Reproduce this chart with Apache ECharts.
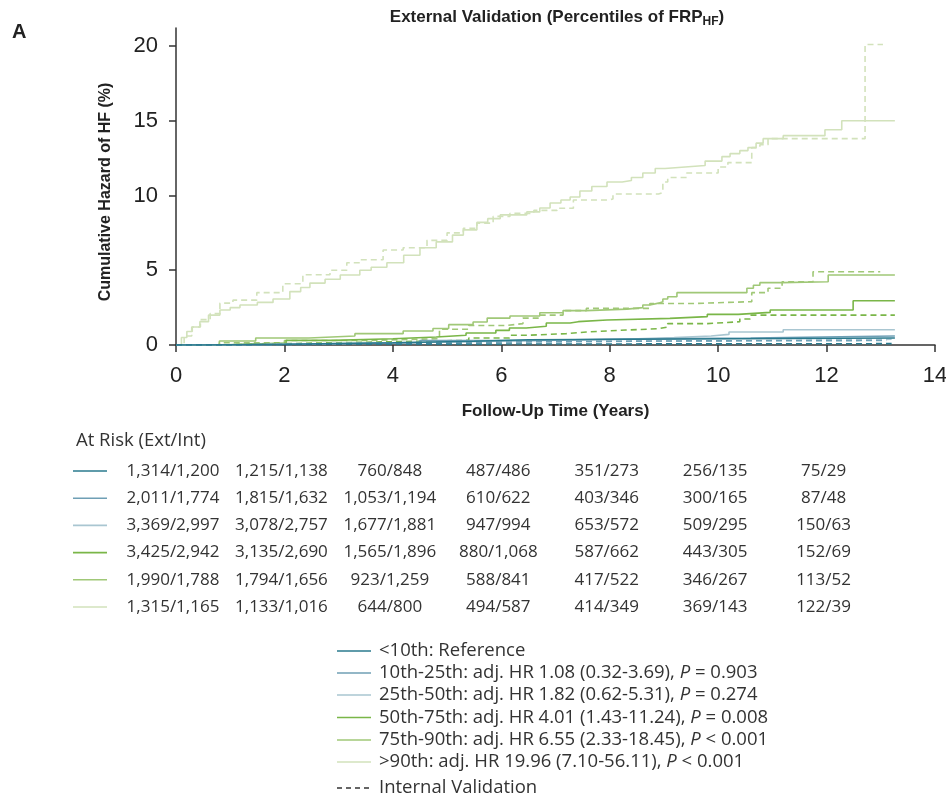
<!DOCTYPE html>
<html>
<head>
<meta charset="utf-8">
<script src="https://cdn.jsdelivr.net/npm/echarts@6/dist/echarts.min.js"></script>
<style>
html,body{margin:0;padding:0;background:#fff;}
#main{width:946px;height:800px;}
</style>
</head>
<body>
<div id="main"></div>
<script>
// groups (percentiles of FRP_HF)
var groupNames = ['<10th', '10th-25th', '25th-50th', '50th-75th', '75th-90th', '>90th'];
var groupColors = ['#2a7a8e', '#6f9fb5', '#a9c6d1', '#7ab648', '#a0c877', '#d2e2bb'];

// external validation (solid) - step times / cumulative hazard (%)
var ext10T = [0, 0.5, 2.0, 4.0, 5.5, 6.5, 13.26];
var ext10V = [0, 0.05, 0.15, 0.25, 0.35, 0.47, 0.47];
var ext25T = [0, 0.5, 2.5, 4.5, 6.5, 8.2, 10.6, 13.26];
var ext25V = [0, 0.05, 0.15, 0.3, 0.4, 0.47, 0.6, 0.6];
var ext50T = [0, 1.0, 3.0, 5.0, 6.8, 8.25, 9.19, 9.87, 10.2, 11.2, 13.26];
var ext50V = [0, 0.1, 0.2, 0.3, 0.38, 0.49, 0.6, 0.71, 0.87, 1.02, 1.02];
var ext75T = [0, 0.8, 2.03, 2.9, 4.0, 4.8, 5.35, 5.9, 6.15, 6.46, 6.83, 7.27, 7.42, 7.95, 9.11, 9.8, 10.37, 10.96, 12.49, 13.26];
var ext75V = [0, 0.13, 0.31, 0.42, 0.54, 0.65, 0.8, 0.98, 1.14, 1.25, 1.47, 1.56, 1.67, 1.78, 1.9, 2.05, 2.18, 2.34, 2.96, 2.96];
var ext90T = [0, 0.8, 1.47, 2.45, 3.3, 4.19, 4.74, 5.03, 5.48, 5.74, 6.16, 6.71, 7.14, 7.57, 8.32, 8.61, 8.74, 8.9, 8.98, 9.07, 9.24, 10.53, 10.65, 10.77, 11.18, 12.03, 13.26];
var ext90V = [0, 0.27, 0.47, 0.6, 0.76, 0.94, 1.1, 1.36, 1.54, 1.8, 1.94, 2.16, 2.3, 2.4, 2.5, 2.68, 2.8, 2.9, 3.08, 3.23, 3.5, 3.8, 4.0, 4.17, 4.23, 4.68, 4.68];
var extTopT = [0, 0.1, 0.2, 0.3, 0.44, 0.6, 0.81, 1.0, 1.18, 1.5, 1.79, 2.1, 2.3, 2.47, 2.75, 3.03, 3.39, 3.6, 3.89, 4.2, 4.5, 4.8, 5.1, 5.3, 5.55, 5.75, 5.98, 6.47, 6.71, 6.9, 7.1, 7.27, 7.45, 7.67, 7.95, 8.23, 8.4, 8.61, 8.84, 9.02, 9.39, 9.76, 10.07, 10.22, 10.4, 10.55, 10.7, 10.83, 11.2, 11.97, 12.28, 13.26];
var extTopV = [0, 0.5, 0.9, 1.2, 1.56, 2.0, 2.34, 2.5, 2.68, 2.85, 3.08, 3.57, 3.85, 4.14, 4.4, 4.68, 5.0, 5.2, 5.5, 6.0, 6.5, 6.9, 7.35, 7.7, 8.2, 8.45, 8.7, 8.9, 9.16, 9.5, 9.7, 9.9, 10.3, 10.6, 10.9, 11.0, 11.2, 11.5, 11.8, 11.9, 12.0, 12.3, 12.6, 12.8, 13.0, 13.2, 13.5, 13.8, 14.0, 14.4, 15.0, 15.0];

// internal validation (dashed)
var int10T = [0, 1.0, 3.0, 13.2];
var int10V = [0, 0.05, 0.09, 0.09];
var int25T = [0, 1.5, 4.0, 6.0, 9.0, 13.1];
var int25V = [0, 0.1, 0.2, 0.27, 0.3, 0.3];
var int50T = [0, 1.0, 3.0, 5.5, 9.87, 13.2];
var int50V = [0, 0.1, 0.2, 0.27, 0.38, 0.38];
var int75T = [0, 0.8, 2.0, 3.7, 5.4, 6.15, 6.5, 7.2, 7.57, 8.3, 8.9, 9.07, 9.8, 10.4, 10.59, 13.26];
var int75V = [0, 0.09, 0.2, 0.31, 0.47, 0.65, 0.76, 0.87, 1.0, 1.09, 1.2, 1.43, 1.56, 1.74, 2.0, 2.0];
var int90T = [0, 0.8, 2.0, 3.5, 4.86, 5.4, 6.08, 6.4, 6.71, 7.14, 7.57, 8.74, 9.61, 10.62, 10.92, 11.18, 11.75, 12.99];
var int90V = [0, 0.15, 0.3, 0.42, 1.05, 1.3, 1.43, 1.8, 2.0, 2.3, 2.45, 2.78, 2.9, 3.5, 3.8, 4.23, 4.9, 4.9];
var intTopT = [0, 0.15, 0.29, 0.45, 0.63, 0.81, 1.05, 1.49, 1.97, 2.34, 2.84, 3.15, 3.39, 3.82, 4.19, 4.63, 5.0, 5.3, 5.55, 5.85, 6.16, 6.6, 7.03, 7.33, 7.95, 8.06, 8.9, 8.98, 9.07, 9.42, 10.0, 10.18, 10.62, 10.77, 10.92, 12.71, 13.04];
var intTopV = [0, 0.6, 1.2, 1.7, 2.1, 2.8, 3.0, 3.5, 4.1, 4.7, 5.0, 5.5, 5.7, 6.35, 6.5, 7.0, 7.5, 7.8, 8.15, 8.6, 8.8, 9.0, 9.15, 9.7, 9.76, 10.1, 10.2, 10.9, 11.2, 11.5, 11.9, 12.2, 13.2, 13.4, 13.8, 20.1, 20.1];

// at risk table (ext/int) at years 0,2,...,12
var riskTimes = [0, 2, 4, 6, 8, 10, 12];
var risk10 = ['1,314/1,200', '1,215/1,138', '760/848', '487/486', '351/273', '256/135', '75/29'];
var risk25 = ['2,011/1,774', '1,815/1,632', '1,053/1,194', '610/622', '403/346', '300/165', '87/48'];
var risk50 = ['3,369/2,997', '3,078/2,757', '1,677/1,881', '947/994', '653/572', '509/295', '150/63'];
var risk75 = ['3,425/2,942', '3,135/2,690', '1,565/1,896', '880/1,068', '587/662', '443/305', '152/69'];
var risk90 = ['1,990/1,788', '1,794/1,656', '923/1,259', '588/841', '417/522', '346/267', '113/52'];
var riskTop = ['1,315/1,165', '1,133/1,016', '644/800', '494/587', '414/349', '369/143', '122/39'];

// legend texts
var legendText = ['<10th: Reference',
  '10th-25th: adj. HR 1.08 (0.32-3.69), ',
  '25th-50th: adj. HR 1.82 (0.62-5.31), ',
  '50th-75th: adj. HR 4.01 (1.43-11.24), ',
  '75th-90th: adj. HR 6.55 (2.33-18.45), ',
  '>90th: adj. HR 19.96 (7.10-56.11), '];
var legendP = ['', ' = 0.903', ' = 0.274', ' = 0.008', ' < 0.001', ' < 0.001'];

var sans = "'Liberation Sans', Arial, sans-serif";
var plain = "'Open Sans', 'Noto Sans', sans-serif";

function pairs(t, v) {
  var out = [];
  for (var i = 0; i < t.length; i++) {
    out.push([t[i], v[i]]);
  }
  return out;
}

function stepSeries(name, t, v, color, dashed) {
  return {
    name: name,
    type: 'line',
    step: 'end',
    symbol: 'none',
    data: pairs(t, v),
    lineStyle: { color: color, width: 1.6, type: dashed ? [6, 4] : 'solid' },
    itemStyle: { color: color },
    silent: true
  };
}

var myChart = echarts.init(document.getElementById('main'));

var extT = [ext10T, ext25T, ext50T, ext75T, ext90T, extTopT];
var extV = [ext10V, ext25V, ext50V, ext75V, ext90V, extTopV];
var intT = [int10T, int25T, int50T, int75T, int90T, intTopT];
var intV = [int10V, int25V, int50V, int75V, int90V, intTopV];

var seriesArray = [];
for (var i = 5; i >= 0; i--) {
  seriesArray.push(stepSeries(groupNames[i] + ' int', intT[i], intV[i], groupColors[i], true));
  seriesArray.push(stepSeries(groupNames[i] + ' ext', extT[i], extV[i], groupColors[i], false));
}

var option = {
  animation: false,
  backgroundColor: '#fff',
  grid: { left: 176, right: 11, top: 28, bottom: 455, containLabel: false, outerBoundsMode: 'none' },
  xAxis: {
    type: 'value',
    min: 0, max: 14, interval: 2,
    name: 'Follow-Up Time (Years)',
    nameLocation: 'middle',
    nameGap: 58,
    nameTextStyle: { fontFamily: sans, fontWeight: 'bold', fontSize: 17, color: '#222' },
    axisLine: { lineStyle: { color: '#333', width: 1.5 } },
    axisTick: { show: true, length: 7, lineStyle: { color: '#333', width: 1.5 } },
    axisLabel: { margin: 20, fontFamily: sans, fontSize: 22, color: '#222' },
    splitLine: { show: false }
  },
  yAxis: {
    type: 'value',
    min: 0, max: 21.2, interval: 5,
    axisLine: { show: true, lineStyle: { color: '#333', width: 1.5 } },
    axisTick: { show: true, length: 7, customValues: [0, 5, 10, 15, 20], lineStyle: { color: '#333', width: 1.5 } },
    axisLabel: { margin: 18, fontFamily: sans, fontSize: 22, color: '#222', customValues: [0, 5, 10, 15, 20] },
    splitLine: { show: false }
  },
  series: seriesArray
};
myChart.setOption(option);

// titles, at-risk table and legend as graphic elements
var graphics = [];
graphics.push({
  type: 'text', left: 12, top: 22,
  style: { text: 'A', font: 'bold 20px ' + sans, fill: '#222' }
});
graphics.push({
  type: 'text', x: 557, y: 17,
  style: {
    text: '{a|External Validation (Percentiles of FRP}{s|HF}{a|)}',
    align: 'center', verticalAlign: 'middle',
    rich: {
      a: { fontFamily: sans, fontWeight: 'bold', fontSize: 17, fill: '#222', lineHeight: 22 },
      s: { fontFamily: sans, fontWeight: 'bold', fontSize: 12, fill: '#222', padding: [10, 0, 0, 0] }
    }
  }
});
graphics.push({
  type: 'text', x: 106, y: 192, rotation: Math.PI / 2,
  style: {
    text: 'Cumulative Hazard of HF (%)', font: 'bold 16px ' + sans, fill: '#222',
    align: 'center', verticalAlign: 'middle'
  }
});

graphics.push({
  type: 'text', x: 76, y: 441,
  style: { text: 'At Risk (Ext/Int)', font: '18.5px ' + plain, fill: '#333', verticalAlign: 'middle' }
});
var riskRows = [risk10, risk25, risk50, risk75, risk90, riskTop];
for (var r = 0; r < riskRows.length; r++) {
  var ry = 471 + 27.2 * r;
  graphics.push({
    type: 'line',
    shape: { x1: 73, y1: ry, x2: 107, y2: ry },
    style: { stroke: groupColors[r], lineWidth: 1.6 }
  });
  for (var c = 0; c < riskTimes.length; c++) {
    var cx = myChart.convertToPixel({ xAxisIndex: 0 }, riskTimes[c]);
    graphics.push({
      type: 'text', x: cx - 3, y: ry,
      style: { text: riskRows[r][c], font: '17px ' + plain, fill: '#333', align: 'center', verticalAlign: 'middle' }
    });
  }
}

var legendY = [651, 673, 695, 717.5, 740, 762];
for (var k = 0; k < legendText.length; k++) {
  graphics.push({
    type: 'line',
    shape: { x1: 337, y1: legendY[k], x2: 371, y2: legendY[k] },
    style: { stroke: groupColors[k], lineWidth: 1.6 }
  });
  var txt = legendText[k];
  if (legendP[k] !== '') {
    txt = legendText[k] + '{i|P}' + legendP[k];
  }
  graphics.push({
    type: 'text', x: 379, y: legendY[k],
    style: {
      text: txt, font: '18.5px ' + plain, fill: '#333', verticalAlign: 'middle',
      rich: { i: { fontFamily: plain, fontSize: 18.5, fontStyle: 'italic', fill: '#333' } }
    }
  });
}
graphics.push({
  type: 'line',
  shape: { x1: 337, y1: 788, x2: 371, y2: 788 },
  style: { stroke: '#333', lineWidth: 1.3, lineDash: [5, 4] }
});
graphics.push({
  type: 'text', x: 379, y: 788,
  style: { text: 'Internal Validation', font: '18.5px ' + plain, fill: '#333', verticalAlign: 'middle' }
});

myChart.setOption({ graphic: graphics });
</script>
</body>
</html>
